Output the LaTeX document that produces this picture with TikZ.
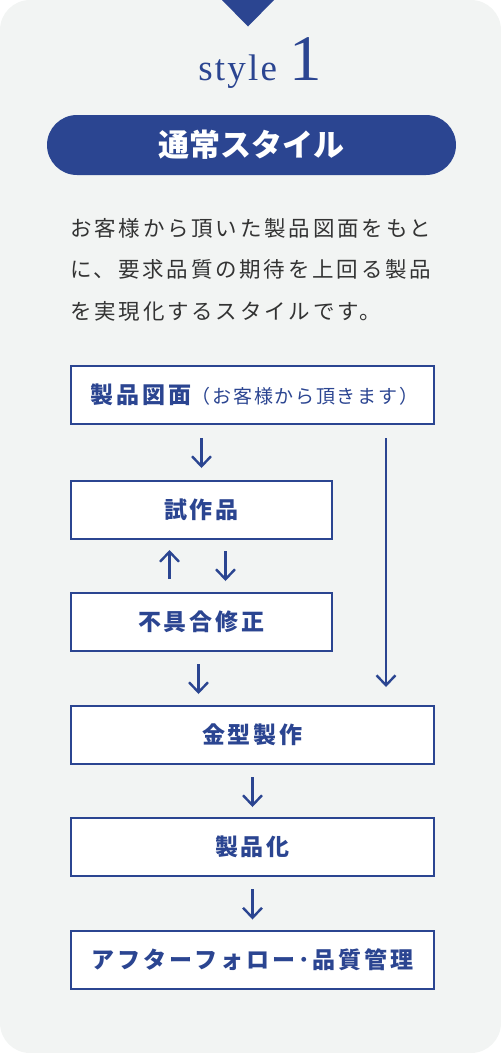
\documentclass[tikz,border=0pt]{standalone}
\usepackage{fontspec}
\setmainfont{Noto Sans CJK JP}
\newfontfamily\jpspaced[LetterSpace=13]{Noto Sans CJK JP}
\newfontfamily\jpbox[LetterSpace=13]{Noto Sans CJK JP}
\newfontfamily\jpnote[LetterSpace=9]{Noto Sans CJK JP}
\newfontfamily\serifstyle[LetterSpace=6]{Liberation Serif}
\usetikzlibrary{arrows.meta}
\definecolor{mainblue}{HTML}{2B4591}
\definecolor{bggray}{HTML}{F2F4F3}
\definecolor{descgray}{HTML}{333333}
\tikzset{>/.tip={Straight Barb[length=10pt,width=19pt]}}
\tikzset{
  stepbox/.style={draw=mainblue, line width=2pt, fill=white, inner sep=0pt,
    minimum height=58pt, text=mainblue,
    font=\jpbox\bfseries\fontsize{23}{23}\selectfont},
  widebox/.style={stepbox, minimum width=363pt},
  narrowbox/.style={stepbox, minimum width=261pt},
  flow/.style={->, draw=mainblue, line width=2.4pt},
  descline/.style={anchor=west, inner sep=0pt, text=descgray,
    font=\jpspaced\fontsize{21.5}{21.5}\selectfont}
}

\begin{document}
\begin{tikzpicture}[x=1pt, y=-1pt]
\useasboundingbox (0,0) rectangle (501,1053);
\fill[bggray, rounded corners=30pt] (0,0) rectangle (501,1053);
\fill[mainblue] (222,0) -- (274,0) -- (248,26.5) -- cycle;

\node (title) [anchor=base, inner sep=0pt, text=mainblue] at (260,80)
  {\serifstyle\fontsize{37}{37}\selectfont style\hspace{12pt}{\fontsize{65}{65}\selectfont 1}};
\node (pill) at (251.5,145) [fill=mainblue, rounded corners=30pt, minimum width=409pt,
  minimum height=60pt, inner sep=0pt, text=white,
  font=\bfseries\fontsize{31}{31}\selectfont] {通常スタイル};

\node (desc1) [descline] at (70,228) {お客様から頂いた製品図面をもと};
\node (desc2) [descline] at (70,269) {に、要求品質の期待を上回る製品};
\node (desc3) [descline] at (70,311) {を実現化するスタイルです。};

\node (b1) [widebox]   at (252.5,395) {\hspace{4pt}製品図面{\jpnote\mdseries\fontsize{19}{19}\selectfont（お客様から頂きます）}};
\node (b2) [narrowbox] at (201.5,510) {試作品};
\node (b3) [narrowbox] at (201.5,622) {不具合修正};
\node (b4) [widebox]   at (252.5,735) {金型製作};
\node (b5) [widebox]   at (252.5,847) {製品化};
\node (b6) [widebox]   at (252.5,959.5) {アフターフォロー･品質管理};

\coordinate (side) at (386,0);
\coordinate (m3) at ([xshift=-3pt]b3.south);
\draw[flow, shorten <=13pt, shorten >=12pt] (b1.south -| b2.north) -- (b2.north);
\draw[flow, shorten <=13pt, shorten >=18pt] (b1.south -| side) -- (b4.north -| side);
\draw[flow, shorten <=13pt, shorten >=10pt] ([xshift=-32pt]b3.north) -- ([xshift=-32pt]b2.south);
\draw[flow, shorten <=11pt, shorten >=11pt] ([xshift=24pt]b2.south) -- ([xshift=24pt]b3.north);
\draw[flow, shorten <=12pt, shorten >=11pt] (m3) -- (m3 |- b4.north);
\draw[flow, shorten <=12pt, shorten >=10pt] (b4.south) -- (b5.north);
\draw[flow, shorten <=12pt, shorten >=10pt] (b5.south) -- (b6.north);
\end{tikzpicture}
\end{document}
